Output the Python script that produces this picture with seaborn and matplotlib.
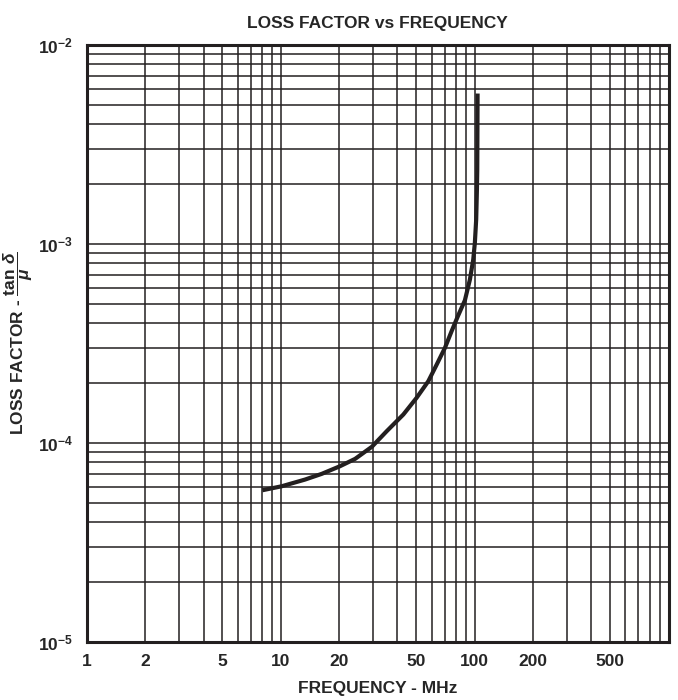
import numpy as np
import pandas as pd
import matplotlib
matplotlib.use("Agg")
import matplotlib.pyplot as plt
import matplotlib.ticker as mticker
import seaborn as sns

# Data
freq_mhz = [8.04, 10.1, 13.35, 16.3, 20.2, 24.2, 29.5, 35.2, 42.9, 50.2, 57.7,
            63.7, 70.3, 76.1, 82.0, 89.1, 94.6, 98.4, 100.3, 101.9, 102.8, 103.2, 103.6]
loss_factor = [5.78e-5, 6.05e-5, 6.54e-5, 6.99e-5, 7.63e-5, 8.31e-5, 9.55e-5,
               1.144e-4, 1.388e-4, 1.683e-4, 2.04e-4, 2.47e-4, 3.00e-4, 3.64e-4,
               4.33e-4, 5.20e-4, 6.62e-4, 8.34e-4, 1.01e-3, 1.325e-3, 1.875e-3,
               2.36e-3, 5.69e-3]
x_tick_values = [1, 2, 5, 10, 20, 50, 100, 200, 500]
x_tick_labels = ["1", "2", "5", "10", "20", "50", "100", "200", "500"]
y_tick_values = [1e-5, 1e-4, 1e-3, 1e-2]
y_tick_labels = [r"10$^{\mathbf{-5}}$", r"10$^{\mathbf{-4}}$", r"10$^{\mathbf{-3}}$", r"10$^{\mathbf{-2}}$"]

df = pd.DataFrame({"freq": freq_mhz, "loss": loss_factor})

sns.set_theme(style="white")
plt.rcParams["font.family"] = ["Liberation Sans", "DejaVu Sans"]
plt.rcParams["font.weight"] = "bold"
plt.rcParams["mathtext.fontset"] = "custom"
plt.rcParams["mathtext.rm"] = "Liberation Sans"
plt.rcParams["mathtext.bf"] = "Liberation Sans:bold"
plt.rcParams["mathtext.it"] = "Liberation Sans:bold:italic"

fig = plt.figure(figsize=(6.78, 7.0), dpi=100)
ax = fig.add_axes([0.128, 0.083, 0.858, 0.853])

sns.lineplot(data=df, x="freq", y="loss", ax=ax, color="#231f20", linewidth=3.0,
             sort=False, estimator=None, solid_capstyle="butt", solid_joinstyle="round")

ax.set_xscale("log")
ax.set_yscale("log")
ax.set_xlim(1, 1000)
ax.set_ylim(1e-5, 1e-2)

ax.xaxis.set_major_locator(mticker.FixedLocator(x_tick_values))
ax.xaxis.set_major_formatter(mticker.FixedFormatter(x_tick_labels))
ax.xaxis.set_minor_locator(mticker.LogLocator(base=10, subs=np.arange(1, 10), numticks=20))
ax.xaxis.set_minor_formatter(mticker.NullFormatter())
ax.yaxis.set_major_locator(mticker.FixedLocator(y_tick_values))
ax.yaxis.set_major_formatter(mticker.FixedFormatter(y_tick_labels))
ax.yaxis.set_minor_locator(mticker.LogLocator(base=10, subs=np.arange(1, 10), numticks=20))
ax.yaxis.set_minor_formatter(mticker.NullFormatter())

ax.grid(which="both", color="#231f20", linewidth=1.1)
ax.tick_params(which="both", length=0)
ax.tick_params(axis="x", pad=9, labelsize=12.5)
ax.tick_params(axis="y", pad=10, labelsize=12.5)
for lab in ax.get_xticklabels() + ax.get_yticklabels():
    lab.set_fontweight("bold")

for sp in ax.spines.values():
    sp.set_visible(True)
    sp.set_color("#231f20")
    sp.set_linewidth(2.2)

ax.set_title("LOSS FACTOR vs FREQUENCY", fontsize=12.5, fontweight="bold", pad=12)
ax.set_xlabel("FREQUENCY - MHz", fontsize=12.5, fontweight="bold", labelpad=8)
ax.set_ylabel(r"LOSS FACTOR - $\dfrac{\mathbf{tan}\ \delta}{\mathit{\mu}}$", fontsize=12.5,
              fontweight="bold", labelpad=2)

fig.savefig("out.png", dpi=100)
